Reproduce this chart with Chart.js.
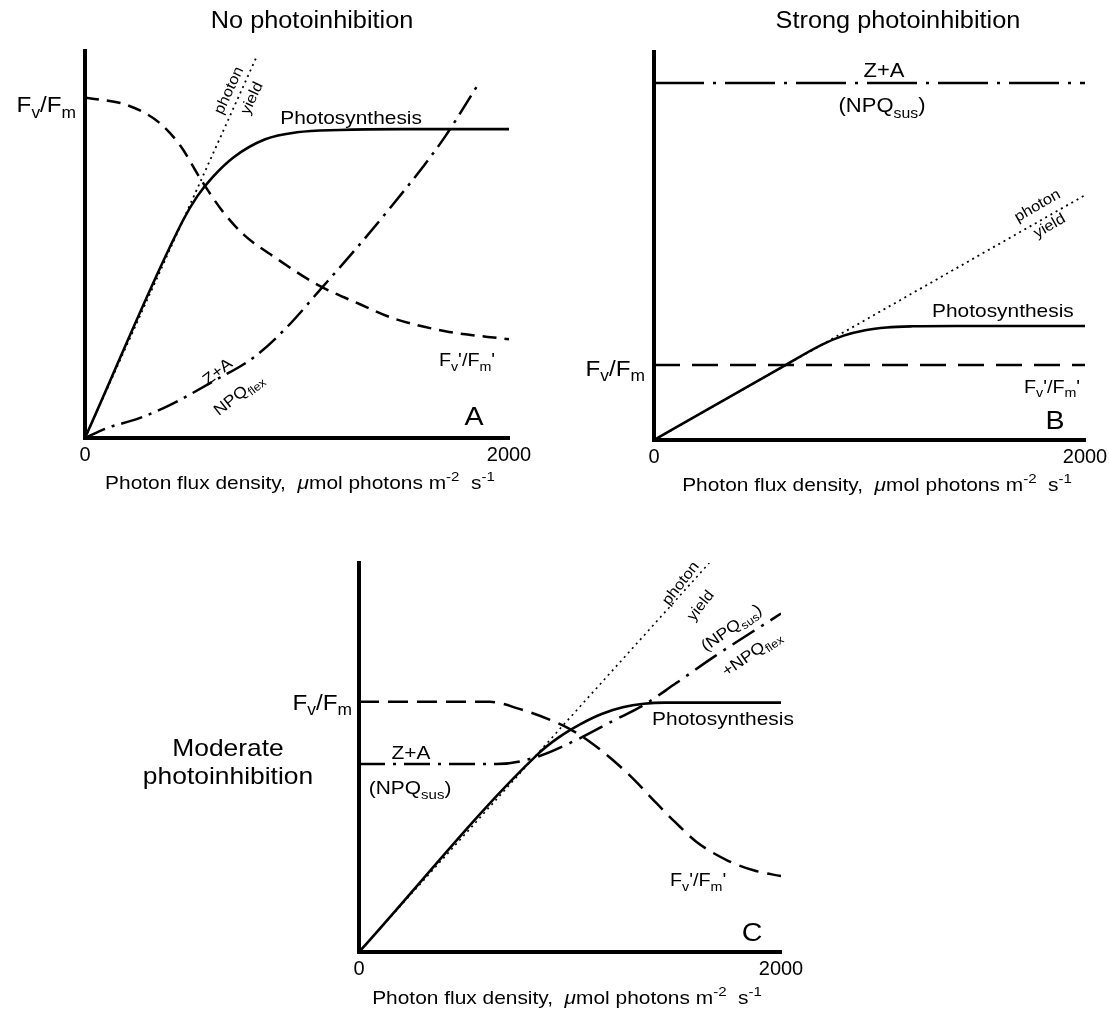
<!DOCTYPE html>
<html><head><meta charset="utf-8">
<script src="https://cdn.jsdelivr.net/npm/chart.js@4.4.1/dist/chart.umd.min.js"></script>
<style>
html,body{margin:0;padding:0;background:#fff;overflow:hidden;width:1109px;height:1013px;position:relative;}
.panel{position:absolute;}
</style></head><body>
<div class="panel" style="left:0;top:0;width:555px;height:500px"><canvas id="cA"></canvas></div>
<div class="panel" style="left:550px;top:0;width:580px;height:500px"><canvas id="cB"></canvas></div>
<div class="panel" style="left:0;top:520px;width:1109px;height:493px"><canvas id="cC"></canvas></div>
<script>
// ---------- DATA (x: photon flux density 0-2000, y: relative units 0-100) ----------
const xTicks = [0, 2000];

// Panel A - No photoinhibition
const aPhotoX = [0, 460, 530, 600, 700, 850, 1000, 1200, 1500, 2000];
const aPhotoY = [0, 56, 62.5, 67.3, 72.5, 77.2, 79, 79.6, 79.8, 79.8];
const aYieldX = [0, 811];
const aYieldY = [0, 98.7];
const aFvFmX = [0, 200, 350, 450, 550, 650, 750, 900, 1100, 1300, 1450, 1700, 2000];
const aFvFmY = [88, 86, 81.5, 75.5, 66.5, 58.5, 52.5, 46.5, 39.5, 34.5, 31, 27.6, 25.5];
const aNpqX = [0, 100, 250, 400, 600, 800, 950, 1120, 1280, 1440, 1600, 1700, 1850];
const aNpqY = [0, 2.5, 5, 8.5, 14.5, 21, 28.5, 39, 49, 59.5, 70.5, 78, 91];

// Panel B - Strong photoinhibition
const bPhotoX = [0, 300, 600, 780, 880, 980, 1080, 1200, 1400, 2000];
const bPhotoY = [0, 9.5, 19, 24.6, 26.9, 28.3, 29, 29.3, 29.4, 29.4];
const bYieldX = [0, 2000];
const bYieldY = [0, 63.1];
const bFvFmX = [0, 2000];
const bFvFmY = [19.3, 19.3];
const bZaX = [0, 2000];
const bZaY = [92, 92];

// Panel C - Moderate photoinhibition
const cPhotoX = [0, 850, 950, 1050, 1150, 1250, 1350, 1450, 2000];
const cPhotoY = [0, 51, 55.3, 58.6, 61.2, 62.9, 63.8, 64.1, 64.1];
const cYieldX = [0, 1660];
const cYieldY = [0, 100];
const cFvFmX = [0, 620, 760, 900, 1000, 1100, 1200, 1300, 1400, 1500, 1600, 1740, 1870, 2000];
const cFvFmY = [64.3, 64.3, 62.5, 59.8, 57.3, 53.8, 49.5, 44.5, 38.8, 33.3, 28.3, 23.7, 21, 19.5];
const cZaX = [0, 650, 840, 1030, 1210, 1350, 1500, 1680, 2000];
const cZaY = [48.3, 48.3, 50.1, 54.5, 59.6, 63.5, 69, 75.8, 87];

// ---------- STYLE / LAYOUT ----------
const FONT = '"Liberation Sans", Arial, Helvetica, sans-serif';
const SX = 1.1;
const AXIS_TITLE = 'Photon flux density,  ~{\u03bc}mol photons m^{-2}  s^{-1}';
const SOLID = [], DASH = [14, 8], DASHDOT = [22, 7, 3, 7], DOT = [2, 4];

function pts(xs, ys) { return xs.map((x, i) => ({x: x, y: ys[i]})); }

function drawRich(ctx, str, x, y, o) {
  const size = o.size || 18;
  const segs = [];
  const re = /_\{([^}]*)\}|\^\{([^}]*)\}|~\{([^}]*)\}|([^_^~]+)/g;
  let m;
  while ((m = re.exec(str))) {
    if (m[1] !== undefined) segs.push({t: m[1], k: 'sub'});
    else if (m[2] !== undefined) segs.push({t: m[2], k: 'sup'});
    else if (m[3] !== undefined) segs.push({t: m[3], k: 'it'});
    else segs.push({t: m[4], k: 'n'});
  }
  const fontFor = s => {
    const fs = (s.k === 'sub' || s.k === 'sup') ? size * 0.72 : size;
    return (s.k === 'it' ? 'italic ' : '') + fs + 'px ' + FONT;
  };
  let W = 0;
  segs.forEach(s => { ctx.font = fontFor(s); s.w = ctx.measureText(s.t).width; W += s.w; });
  ctx.save();
  ctx.translate(x, y);
  if (o.rot) ctx.rotate(o.rot * Math.PI / 180);
  ctx.scale(SX, 1);
  let cx = o.align === 'right' ? -W : (o.align === 'left' ? 0 : -W / 2);
  const base = size * 0.358;
  ctx.fillStyle = '#000';
  ctx.textBaseline = 'alphabetic';
  ctx.textAlign = 'left';
  segs.forEach(s => {
    ctx.font = fontFor(s);
    const dy = s.k === 'sub' ? size * 0.26 : (s.k === 'sup' ? -size * 0.42 : 0);
    ctx.fillText(s.t, cx, base + dy);
    cx += s.w;
  });
  ctx.restore();
}

const richLabelPlugin = {
  id: 'richLabels',
  afterDraw(chart, args, opts) {
    const ctx = chart.ctx, xs = chart.scales.x, ys = chart.scales.y;
    (opts.items || []).forEach(it => {
      drawRich(ctx, it.text, xs.getPixelForValue(it.x), ys.getPixelForValue(it.y), it);
    });
  }
};

function ds(label, data, dash, width) {
  return {label: label, data: data, borderColor: '#000', borderWidth: width || 2.5,
    borderDash: dash, pointRadius: 0, fill: false, cubicInterpolationMode: 'monotone',
    borderCapStyle: 'butt'};
}

function makeChart(id, pad, xH, datasets, items) {
  return new Chart(document.getElementById(id), {
    type: 'line',
    data: {datasets: datasets},
    plugins: [richLabelPlugin],
    options: {
      responsive: true, maintainAspectRatio: false, animation: false, devicePixelRatio: 1,
      layout: {padding: pad},
      plugins: {legend: {display: false}, tooltip: {enabled: false}, richLabels: {items: items}},
      scales: {
        x: {type: 'linear', min: 0, max: 2000,
          afterBuildTicks: s => { s.ticks = xTicks.map(v => ({value: v})); },
          afterFit: s => { s.height = xH; },
          ticks: {font: {size: 20, family: FONT}, color: '#000', padding: 5, maxRotation: 0, autoSkip: false,
            callback: v => String(v)},
          grid: {display: false, drawTicks: false},
          border: {display: true, color: '#000', width: 4}},
        y: {type: 'linear', min: 0, max: 100,
          afterFit: s => { s.width = 0; },
          ticks: {display: false},
          grid: {display: false, drawTicks: false},
          border: {display: true, color: '#000', width: 4}}
      }
    }
  });
}

// Panel A
makeChart('cA', {left: 85, right: 46, top: 51, bottom: 0}, 62, [
  ds('Photosynthesis', pts(aPhotoX, aPhotoY), SOLID, 2.6),
  ds('photon yield', pts(aYieldX, aYieldY), DOT, 1.8),
  ds('Fv/Fm', pts(aFvFmX, aFvFmY), DASH, 2.5),
  ds('Z+A NPQflex', pts(aNpqX, aNpqY), DASHDOT, 2.5)
], [
  {text: 'No photoinhibition', x: 1071, y: 108, size: 23},
  {text: 'F_{v}/F_{m}', x: -42, y: 86.3, size: 22, align: 'right'},
  {text: 'Photosynthesis', x: 1255, y: 82.9, size: 19},
  {text: "F_{v}'/F_{m}'", x: 1802, y: 20.2, size: 18},
  {text: 'A', x: 1835, y: 5.7, size: 26},
  {text: 'photon', x: 675, y: 89.9, size: 15, rot: -65},
  {text: 'yield', x: 783, y: 87.9, size: 15, rot: -65},
  {text: 'Z+A', x: 623, y: 17.3, size: 16, rot: -38},
  {text: 'NPQ_{flex}', x: 722, y: 11.4, size: 16, rot: -38},
  {text: AXIS_TITLE, x: 1014, y: -11.4, size: 19}
]);

// Panel B
makeChart('cB', {left: 104, right: 45, top: 52, bottom: 0}, 60, [
  ds('Photosynthesis', pts(bPhotoX, bPhotoY), SOLID, 2.6),
  ds('photon yield', pts(bYieldX, bYieldY), DOT, 1.8),
  ds('Fv/Fm', pts(bFvFmX, bFvFmY), [26, 12], 2.5),
  ds('Z+A (NPQsus)', pts(bZaX, bZaY), [50, 9, 3, 9], 2.5)
], [
  {text: 'Strong photoinhibition', x: 1132, y: 108.2, size: 23},
  {text: 'Z+A', x: 1067, y: 95.4, size: 20},
  {text: '(NPQ_{sus})', x: 1058, y: 86.3, size: 20},
  {text: 'F_{v}/F_{m}', x: -42, y: 18.6, size: 22, align: 'right'},
  {text: "F_{v}'/F_{m}'", x: 1847, y: 13.9, size: 18},
  {text: 'Photosynthesis', x: 1619, y: 33.5, size: 19},
  {text: 'B', x: 1861, y: 5.2, size: 26},
  {text: 'photon', x: 1777, y: 60.6, size: 15, rot: -30},
  {text: 'yield', x: 1833, y: 55.4, size: 15, rot: -30},
  {text: AXIS_TITLE, x: 1035, y: -11.3, size: 19}
]);

// Panel C
makeChart('cC', {left: 359, right: 328, top: 43, bottom: 0}, 61, [
  ds('Photosynthesis', pts(cPhotoX, cPhotoY), SOLID, 2.6),
  ds('photon yield', pts(cYieldX, cYieldY), DOT, 1.6),
  ds('Fv/Fm', pts(cFvFmX, cFvFmY), [20, 9], 2.5),
  ds('Z+A (NPQsus)+NPQflex', pts(cZaX, cZaY), [26, 8, 3, 8], 2.5)
], [
  {text: 'F_{v}/F_{m}', x: -33, y: 64.3, size: 22, align: 'right'},
  {text: 'Z+A', x: 246, y: 51.4, size: 19},
  {text: '(NPQ_{sus})', x: 242, y: 42.4, size: 19},
  {text: 'Photosynthesis', x: 1725, y: 60.2, size: 19},
  {text: "F_{v}'/F_{m}'", x: 1607, y: 18.5, size: 18},
  {text: 'C', x: 1863, y: 5.1, size: 26},
  {text: 'photon', x: 1521, y: 94.9, size: 15, rot: -52},
  {text: 'yield', x: 1616, y: 89.2, size: 15, rot: -52},
  {text: '(NPQ_{sus})', x: 1763, y: 83.5, size: 16, rot: -35},
  {text: '+NPQ_{flex}', x: 1858, y: 76.9, size: 16, rot: -35},
  {text: 'Moderate', x: -621, y: 52.7, size: 24},
  {text: 'photoinhibition', x: -621, y: 45.5, size: 24},
  {text: AXIS_TITLE, x: 986, y: -11.6, size: 19}
]);
</script>
</body></html>
